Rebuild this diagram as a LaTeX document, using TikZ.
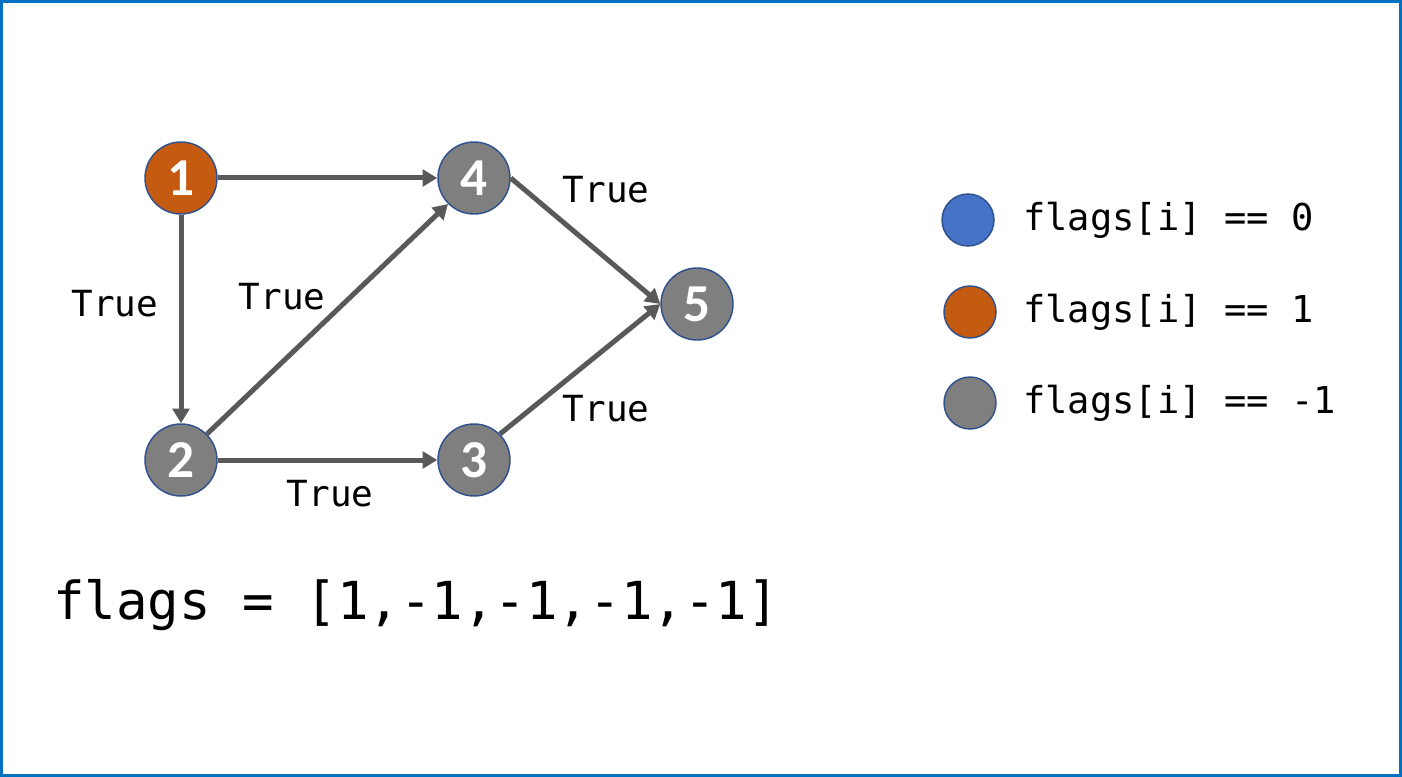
\documentclass[tikz,border=0pt]{standalone}
\usepackage{fontspec}
\setmainfont{Carlito}
\newfontfamily\codefont{DejaVu Sans Mono}
\usepackage{tikz}
\usetikzlibrary{arrows.meta,positioning}

\definecolor{frameblue}{RGB}{0,112,192}
\definecolor{ringblue}{RGB}{47,82,143}
\definecolor{edgegray}{RGB}{89,89,89}
\definecolor{zeroblue}{RGB}{68,114,196}
\definecolor{oneorange}{RGB}{197,90,17}
\definecolor{minusgray}{RGB}{127,127,127}

\tikzset{
  vertex/.style={circle,draw=ringblue,line width=1.1pt,minimum size=54pt,inner sep=0pt,
    text=white,font=\fontsize{40}{40}\selectfont\bfseries},
  keydot/.style={circle,draw=ringblue,line width=1.1pt,minimum size=39pt,inner sep=0pt},
  flow/.style={draw=edgegray,line width=3.75pt,-{Triangle[length=11pt,width=12.5pt]}},
  truelabel/.style={inner sep=0.75pt,font=\codefont\fontsize{27}{30}\selectfont},
  keytext/.style={anchor=west,inner sep=0.75pt,font=\codefont\fontsize{27.8}{30}\selectfont}
}

\begin{document}
\begin{tikzpicture}[x=0.75pt,y=0.75pt,yscale=-1,xscale=1]
\useasboundingbox (0,0) rectangle (1402,777);
%Shape: Frame
\draw [frameblue,line width=2.25pt] (1.5,1.5) rectangle (1400.5,775.5);

%Graph vertices
\node [vertex,fill=oneorange] (v1) at (181,178) {1};
\node [vertex,fill=minusgray] (v4) at (474,178) {4};
\node [vertex,fill=minusgray] (v5) at (697,304) {5};
\node [vertex,fill=minusgray] (v2) at (181,460) {2};
\node [vertex,fill=minusgray] (v3) at (474,460) {3};

%Directed edges
\draw [flow] (v1) -- (v4);
\draw [flow] (v1) -- (v2);
\draw [flow] (v2.north east) -- (v4.south west);
\draw [flow] (v2) -- (v3);
\draw [flow] (v4.east) -- (v5.west);
\draw [flow] (v3.north east) -- (v5.west);

% Text Node
\node [truelabel] (t12) at (115,304) {True};
\node [truelabel] (t24) at (282,297) {True};
\node [truelabel] (t23) at (330,494) {True};
\node [truelabel] (t45) at (606,190) {True};
\node [truelabel] (t35) at (606,409) {True};

%Legend
\node [keydot,fill=zeroblue] (k0) at (968,220) {};
\node [keydot,fill=oneorange] (k1) at (970,312) {};
\node [keydot,fill=minusgray] (k2) at (970,403) {};
\node [keytext] (l0) at (1022,220) {flags[i] == 0};
\node [keytext] (l1) at (1022,312) {flags[i] == 1};
\node [keytext] (l2) at (1022,403) {flags[i] == -1};

% Text Node
\node [anchor=west,inner sep=0.75pt,font=\codefont\fontsize{39.3}{42}\selectfont] (arr) at (52,605) {flags = [1,-1,-1,-1,-1]};

\end{tikzpicture}
\end{document}
